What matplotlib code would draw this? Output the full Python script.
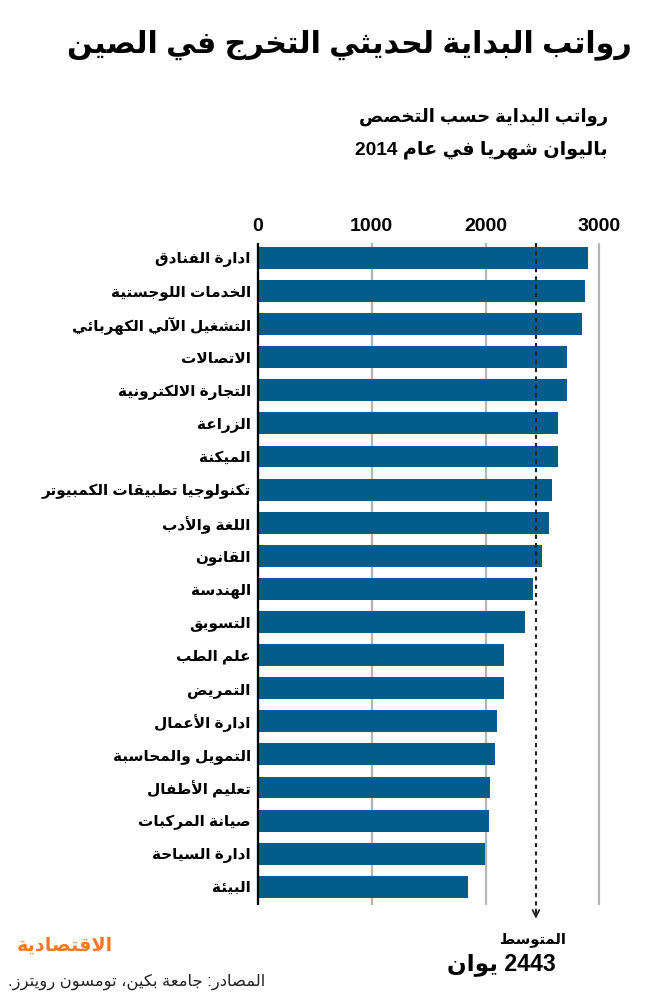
import re
import matplotlib
matplotlib.use("Agg")
import matplotlib.pyplot as plt

plt.rcParams['font.family'] = ['Liberation Sans', 'DejaVu Sans']

# ---- data ----
majors = ["ادارة الفنادق", "الخدمات اللوجستية", "التشغيل الآلي الكهربائي",
          "الاتصالات", "التجارة الالكترونية", "الزراعة", "الميكنة",
          "تكنولوجيا تطبيقات الكمبيوتر", "اللغة والأدب", "القانون",
          "الهندسة", "التسويق", "علم الطب", "التمريض", "ادارة الأعمال",
          "التمويل والمحاسبة", "تعليم الأطفال", "صيانة المركبات",
          "ادارة السياحة", "البيئة"]
salaries = [2900, 2876, 2844, 2715, 2715, 2638, 2633, 2583, 2562, 2498,
            2413, 2346, 2166, 2161, 2105, 2087, 2043, 2029, 1999, 1850]
average = 2443
xticks = [0, 1000, 2000, 3000]

title = "رواتب البداية لحديثي التخرج في الصين"
subtitle1 = "رواتب البداية حسب التخصص"
subtitle2 = "باليوان شهريا في عام 2014"
avg_label = "المتوسط"
avg_value = "2443 يوان"
logo = "الاقتصادية"
source = "المصادر: جامعة بكين، تومسون رويترز."


# ---- minimal arabic shaping (matplotlib has no text shaping) ----
FORMS = {}
start = 0xFE80
counts = [(0x621, 1), (0x622, 2), (0x623, 2), (0x624, 2), (0x625, 2),
          (0x626, 4), (0x627, 2), (0x628, 4), (0x629, 2)]
counts += [(c, 4) for c in range(0x62A, 0x62F)]
counts += [(c, 2) for c in range(0x62F, 0x633)]
counts += [(c, 4) for c in range(0x633, 0x63B)]
counts += [(c, 4) for c in range(0x641, 0x648)]
counts += [(0x648, 2), (0x649, 2), (0x64A, 4)]
for code, n in counts:
    FORMS[chr(code)] = (start, n)
    start += n
LAM_ALEF = {'\u0622': 0xFEF5, '\u0623': 0xFEF7, '\u0625': 0xFEF9, '\u0627': 0xFEFB}


def shape(s):
    out = []
    i = 0
    while i < len(s):
        c = s[i]
        if c not in FORMS:
            out.append(c)
            i += 1
            continue
        prev = s[i - 1] if i > 0 else ''
        nxt = s[i + 1] if i + 1 < len(s) else ''
        link_prev = prev in FORMS and FORMS[prev][1] == 4 and FORMS[c][1] > 1
        if c == '\u0644' and nxt in LAM_ALEF:
            out.append(chr(LAM_ALEF[nxt] + (1 if link_prev else 0)))
            i += 2
            continue
        base, n = FORMS[c]
        link_next = n == 4 and nxt in FORMS and FORMS[nxt][1] > 1
        if n == 4:
            idx = {(False, False): 0, (True, False): 1,
                   (False, True): 2, (True, True): 3}[(link_prev, link_next)]
        elif n == 2:
            idx = 1 if link_prev else 0
        else:
            idx = 0
        out.append(chr(base + idx))
        i += 1
    return ''.join(out)


def ar(s):
    s = shape(s)
    parts = re.findall(r'\d+|\D+', s)
    return ''.join(p if p[0].isdigit() else p[::-1] for p in reversed(parts))


# ---- figure ----
W, H = 660, 998
fig = plt.figure(figsize=(W / 100, H / 100), dpi=100)
renderer = fig.canvas.get_renderer()


def fit_text(x, y, s, width, size, **kw):
    # place text, then rescale font so it spans `width` pixels like the reference
    t = fig.text(x / W, 1 - y / H, ar(s), va='center', fontsize=size, **kw)
    w = t.get_window_extent(renderer).width
    t.set_fontsize(size * width / w)
    return t


k = (599.3 - 258) / 3000          # pixels per yuan
x0, x1 = -40, 3060
ax = fig.add_axes([(258 + x0 * k) / W, 1 - 905 / H,
                   (x1 - x0) * k / W, (905 - 243) / H])

ypos = list(range(len(majors)))
ax.barh(ypos, salaries, height=0.66, color='#045b8e', zorder=3)
ax.set_xlim(x0, x1)
ax.set_ylim(19.55, -0.45)

ax.set_xticks(xticks)
ax.set_xticklabels([str(t) for t in xticks], fontsize=14, fontweight='bold')
ax.xaxis.tick_top()
ax.tick_params(axis='x', length=0, pad=6)
ax.set_yticks(ypos)
ax.set_yticklabels([ar(m) for m in majors], fontsize=11, fontweight='bold')
ax.tick_params(axis='y', length=0, pad=2)
ax.grid(axis='x', color='#b5b5b5', lw=1.6, zorder=1)
ax.axvline(0, color='black', lw=1.6, zorder=4)
for s in ax.spines.values():
    s.set_visible(False)

# average marker
ax.plot([average, average], [-0.45, 19.8], color='#222222', lw=1.5,
        ls=(0, (2, 2)), clip_on=False, zorder=5)
ax.annotate('', xy=(average, 20.05), xytext=(average, 19.6),
            arrowprops=dict(arrowstyle='->', lw=1.3, color='#222222',
                            mutation_scale=12),
            annotation_clip=False)

# texts
fit_text(632, 45, title, 564, 22, ha='right', fontweight='bold')
fit_text(608, 117, subtitle1, 251, 14, ha='right', fontweight='bold')
fit_text(608, 150, subtitle2, 253, 14, ha='right', fontweight='bold')
fit_text(566, 940, avg_label, 66, 11, ha='right', fontweight='bold')
fit_text(556, 964, avg_value, 109, 17, ha='right', fontweight='bold')
fit_text(17, 946, logo, 96, 15, ha='left', fontweight='bold', color='#f47a20')
fit_text(8, 982, source, 257, 11, ha='left', color='#222222')

fig.savefig('out.png', dpi=100)
